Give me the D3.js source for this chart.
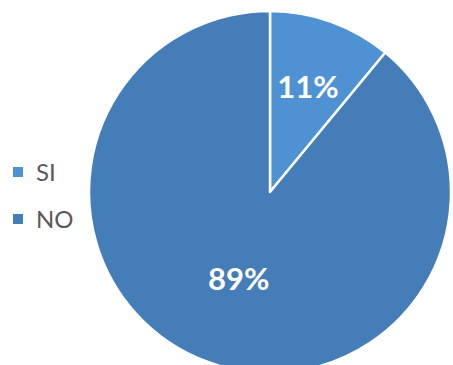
<!DOCTYPE html>
<html>
<head>
<meta charset="utf-8">
<script src="https://cdn.jsdelivr.net/npm/d3@7"></script>
<style>
  html, body { margin: 0; padding: 0; background: #fff; }
  svg { display: block; }
</style>
</head>
<body>
<svg id="chart"></svg>
<script>
const categories = ["SI", "NO"];
const values = [11, 89];
const colors = ["#4f92d4", "#457db8"];

const width = 453, height = 365;
const cx = 270, cy = 192, radius = 181;

const svg = d3.select("#chart")
  .attr("width", width)
  .attr("height", height);

const data = categories.map((c, i) => ({ name: c, value: values[i] }));

const pie = d3.pie()
  .value(d => d.value)
  .sort(null);

const arcs = pie(data);

const arc = d3.arc()
  .innerRadius(0)
  .outerRadius(radius);

const g = svg.append("g")
  .attr("transform", `translate(${cx},${cy})`);

g.selectAll("path")
  .data(arcs)
  .enter()
  .append("path")
  .attr("d", arc)
  .attr("fill", (d, i) => colors[i])
  .attr("stroke", "#fff")
  .attr("stroke-width", 2.5)
  .attr("stroke-linejoin", "round");

// small slices get their label further out, like the original
const labelRadius = d => (d.endAngle - d.startAngle) < Math.PI ? radius * 0.62 : radius * 0.51;

g.selectAll("text.pct")
  .data(arcs)
  .enter()
  .append("text")
  .attr("class", "pct")
  .attr("transform", d => {
    const a = (d.startAngle + d.endAngle) / 2;
    const r = labelRadius(d);
    return `translate(${Math.sin(a) * r},${-Math.cos(a) * r})`;
  })
  .attr("text-anchor", "middle")
  .attr("dy", "0.36em")
  .style("font-family", "Lato, 'Open Sans', sans-serif")
  .style("font-weight", "bold")
  .style("font-size", "31px")
  .style("fill", "#fff")
  .text(d => d.data.value + "%");

const legend = svg.append("g")
  .attr("transform", "translate(13, 172)");

const items = legend.selectAll("g")
  .data(categories)
  .enter()
  .append("g")
  .attr("transform", (d, i) => `translate(0, ${i * 47})`);

items.append("rect")
  .attr("x", 0)
  .attr("y", -5)
  .attr("width", 10)
  .attr("height", 10)
  .attr("fill", (d, i) => colors[i]);

items.append("text")
  .attr("x", 23)
  .attr("y", 0)
  .attr("dy", "0.36em")
  .style("font-family", "Lato, 'Open Sans', sans-serif")
  .style("font-size", "24px")
  .style("fill", "#595959")
  .text(d => d);
</script>
</body>
</html>
